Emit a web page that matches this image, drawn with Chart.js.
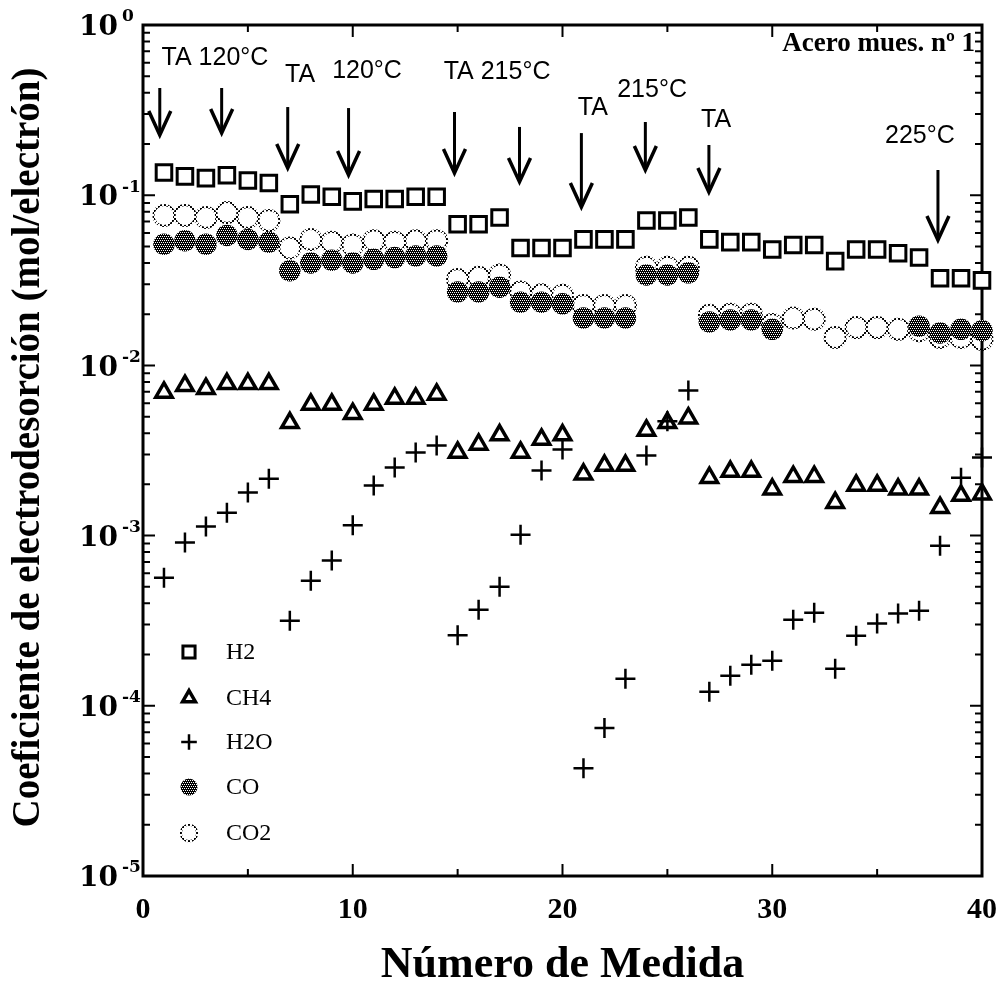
<!DOCTYPE html>
<html>
<head>
<meta charset="utf-8">
<script src="https://cdn.jsdelivr.net/npm/chart.js@4/dist/chart.umd.min.js"></script>
<style>
html,body{margin:0;padding:0;background:#fff;}
#wrap{width:1004px;height:986px;position:relative;}
</style>
</head>
<body>
<div id="wrap"><canvas id="c" width="1004" height="986"></canvas></div>
<script>
// ---------- data ----------
const measureNumber = [1,2,3,4,5,6,7,8,9,10,11,12,13,14,15,16,17,18,19,20,21,22,23,24,25,26,27,28,29,30,31,32,33,34,35,36,37,38,39,40];
const h2 = [0.136,0.129,0.126,0.131,0.122,0.118,0.0885,0.101,0.098,0.092,0.095,0.095,0.098,0.098,0.0675,0.0675,0.074,0.049,0.049,0.049,0.055,0.055,0.055,0.071,0.071,0.074,0.055,0.053,0.053,0.048,0.051,0.051,0.041,0.048,0.048,0.0456,0.043,0.0325,0.0325,0.0316];
const ch4 = [0.00694,0.0076,0.0073,0.0078,0.0078,0.0078,0.0046,0.0059,0.0059,0.0052,0.0059,0.0064,0.0064,0.00675,0.00308,0.00343,0.0039,0.00308,0.00367,0.0039,0.00229,0.00258,0.00258,0.00415,0.0046,0.0049,0.00219,0.00238,0.00238,0.00187,0.00222,0.00222,0.00156,0.00197,0.00197,0.00187,0.00187,0.00146,0.00172,0.00175];
const h2o = [0.000566,0.00091,0.00113,0.00136,0.00179,0.00216,0.000316,0.000543,0.000713,0.00115,0.00197,0.00251,0.00308,0.00338,0.00026,0.000367,0.0005,0.00101,0.00241,0.0032,0.000043,0.000074,0.000144,0.00296,0.0047,0.00713,0.000121,0.00015,0.000174,0.000184,0.00032,0.000352,0.000165,0.000258,0.000304,0.000348,0.000362,0.000873,0.00219,0.00288];
const co = [0.0515,0.054,0.0515,0.058,0.055,0.053,0.036,0.040,0.0415,0.040,0.042,0.043,0.044,0.044,0.027,0.027,0.0288,0.0235,0.0235,0.023,0.019,0.019,0.019,0.034,0.034,0.035,0.018,0.0185,0.0185,0.0163,null,null,null,null,null,null,0.017,0.0155,0.0163,0.016];
const co2 = [0.076,0.076,0.074,0.079,0.074,0.071,0.049,0.055,0.053,0.051,0.054,0.053,0.054,0.054,0.032,0.033,0.034,0.027,0.026,0.0258,0.0225,0.0225,0.0225,0.0377,0.0377,0.0377,0.0197,0.020,0.020,0.0174,0.019,0.0187,0.0146,0.0167,0.0167,0.0163,0.016,0.0146,0.0146,0.0142];

const seriesNames = ['H2','CH4','H2O','CO','CO2'];
const xTickLabels = ['0','10','20','30','40'];
const xTickValues = [0,10,20,30,40];
const xMinorTickValues = [5,15,25,35];
const yTickExponents = [0,-1,-2,-3,-4,-5];

// annotations (data coordinates: x value, log10 of y value)
const arrowX      = [0.8, 3.75, 6.9, 9.8, 14.85, 17.95, 20.9, 23.95, 26.98, 37.9];
const arrowTopExp = [-0.370,-0.370,-0.482,-0.488,-0.511,-0.599,-0.635,-0.570,-0.705,-0.852];
const arrowTipExp = [-0.646,-0.635,-0.840,-0.881,-0.870,-0.922,-1.069,-0.852,-0.981,-1.263];
const noteTexts = ['TA 120°C','TA','120°C','TA 215°C','TA','215°C','TA','225°C'];
const noteX     = [3.43, 7.49, 10.68, 16.88, 21.45, 24.27, 27.32, 37.04];
const noteExp   = [-0.194,-0.294,-0.270,-0.276,-0.488,-0.382,-0.558,-0.652];
const sampleTitle = 'Acero mues. nº 1';
const xTitle = 'Número de Medida';
const yTitle = 'Coeficiente de electrodesorción (mol/electrón)';

// ---------- styles ----------
const canvas = document.getElementById('c');
const mainCtx = canvas.getContext('2d');
function makePattern(size, blackCells, bg) {
  const c = document.createElement('canvas');
  c.width = size; c.height = size;
  const g = c.getContext('2d');
  if (bg) { g.fillStyle = bg; g.fillRect(0,0,size,size); }
  g.fillStyle = '#000';
  blackCells.forEach(([i,j]) => g.fillRect(i,j,1,1));
  return mainCtx.createPattern(c, 'repeat');
}
// halftone: 4x4 cell, white dots at (0,0),(2,0),(1,2),(3,2)
const coCells = [];
for (let i = 0; i < 4; i++) for (let j = 0; j < 4; j++) {
  const white = (j === 0 && (i === 0 || i === 2)) || (j === 2 && (i === 1 || i === 3));
  if (!white) coCells.push([i, j]);
}
const coFill = makePattern(4, coCells, '#fff');
const co2Stroke = makePattern(4, [[0,0],[1,0],[0,1],[1,1],[2,2],[3,2],[2,3],[3,3]], null);

function pts(arr) {
  return measureNumber.map((x,i) => ({x, y: arr[i]})).filter(p => p.y !== null);
}

const datasets = [
  {label:seriesNames[0], data:pts(h2), pointStyle:'rect', pointRadius:11, pointBorderWidth:3,
   pointBorderColor:'#000', pointBackgroundColor:'#fff', order:2, clip:false},
  {label:seriesNames[1], data:pts(ch4), pointStyle:'triangle', pointRadius:9.5, pointBorderWidth:3.5,
   pointBorderColor:'#000', pointBackgroundColor:'rgba(0,0,0,0)', order:1, clip:false},
  {label:seriesNames[2], data:pts(h2o), pointStyle:'cross', pointRadius:10, pointBorderWidth:2.5,
   pointBorderColor:'#000', pointBackgroundColor:'rgba(0,0,0,0)', order:0, clip:false},
  {label:seriesNames[3], data:pts(co), pointStyle:'circle', pointRadius:10, pointBorderWidth:1.5,
   pointBorderColor:coFill, pointBackgroundColor:coFill, order:3, clip:false},
  {label:seriesNames[4], data:pts(co2), pointStyle:'circle', pointRadius:10.5, pointBorderWidth:2,
   pointBorderColor:co2Stroke, pointBackgroundColor:'rgba(255,255,255,0)', order:4, clip:false}
];
datasets.forEach(d => { d.showLine = false; d.pointHoverRadius = d.pointRadius; });

const TICK_FONT_Y = 'bold 28px "DejaVu Serif"';
const EXP_FONT = 'bold 17px "DejaVu Serif"';
const TICK_FONT_X = 'bold 30px "Liberation Serif"';
const XTITLE_FONT = 'bold 44px "Liberation Serif"';
const YTITLE_FONT = 'bold 39px "Liberation Serif"';
const NOTE_FONT = '25px "Liberation Sans"';
const LEGEND_FONT = '24px "Liberation Serif"';
const SAMPLE_FONT = 'bold 27px "Liberation Serif"';

function drawMarker(ctx, ds, x, y, scale) {
  ctx.save();
  ctx.fillStyle = ds.pointBackgroundColor;
  ctx.strokeStyle = ds.pointBorderColor;
  ctx.lineWidth = ds.pointBorderWidth;
  Chart.helpers.drawPoint(ctx, {pointStyle: ds.pointStyle, radius: ds.pointRadius*scale, rotation: 0,
    borderWidth: ds.pointBorderWidth}, x, y);
  ctx.restore();
}

const decor = {
  id: 'decor',
  beforeDatasetsDraw(chart) {
    const {ctx, chartArea: a, scales: {x, y}} = chart;
    ctx.save();
    ctx.strokeStyle = '#000';
    ctx.lineWidth = 2;
    ctx.beginPath();
    xTickValues.concat(xMinorTickValues).forEach(v => {
      const px = x.getPixelForValue(v);
      const len = xTickValues.includes(v) ? 12 : 7;
      ctx.moveTo(px, a.bottom); ctx.lineTo(px, a.bottom - len);
      ctx.moveTo(px, a.top); ctx.lineTo(px, a.top + len);
    });
    yTickExponents.forEach(e => {
      for (let m = 1; m <= 9; m++) {
        const v = m * Math.pow(10, e);
        if (v > 1.0000001) break;
        const py = y.getPixelForValue(v);
        const len = m === 1 ? 12 : 7;
        ctx.moveTo(a.left, py); ctx.lineTo(a.left + len, py);
        ctx.moveTo(a.right, py); ctx.lineTo(a.right - len, py);
      }
    });
    ctx.stroke();
    ctx.lineWidth = 3;
    ctx.strokeRect(a.left, a.top, a.right - a.left, a.bottom - a.top);
    ctx.restore();
  },
  afterDatasetsDraw(chart) {
    const {ctx, chartArea: a, scales: {x, y}} = chart;
    ctx.save();
    ctx.fillStyle = '#000';
    // y tick labels
    yTickExponents.forEach(e => {
      const py = y.getPixelForValue(Math.pow(10, e));
      ctx.font = TICK_FONT_Y; ctx.textAlign = 'right'; ctx.textBaseline = 'middle';
      ctx.fillText('10', 118, py + 3);
      ctx.font = EXP_FONT; ctx.textAlign = 'left';
      ctx.fillText(e === 0 ? '0' : '-' + (-e), 122, py - 8);
    });
    // x tick labels
    ctx.font = TICK_FONT_X; ctx.textAlign = 'center'; ctx.textBaseline = 'middle';
    xTickValues.forEach((v, i) => ctx.fillText(xTickLabels[i], x.getPixelForValue(v), a.bottom + 34));
    // titles
    ctx.font = XTITLE_FONT;
    ctx.fillText(xTitle, (a.left + a.right) / 2, a.bottom + 90);
    ctx.save();
    ctx.font = YTITLE_FONT;
    ctx.translate(29, (a.top + a.bottom) / 2 - 3);
    ctx.rotate(-Math.PI / 2);
    ctx.fillText(yTitle, 0, 0);
    ctx.restore();
    // arrows
    ctx.strokeStyle = '#000';
    ctx.lineCap = 'butt';
    arrowX.forEach((v, i) => {
      const px = x.getPixelForValue(v);
      const top = y.getPixelForValue(Math.pow(10, arrowTopExp[i]));
      const tip = y.getPixelForValue(Math.pow(10, arrowTipExp[i]));
      ctx.lineWidth = 3;
      ctx.beginPath(); ctx.moveTo(px, top); ctx.lineTo(px, tip - 2); ctx.stroke();
      ctx.lineWidth = 3.5;
      ctx.beginPath();
      ctx.moveTo(px - 11, tip - 24); ctx.lineTo(px, tip); ctx.lineTo(px + 11, tip - 24);
      ctx.stroke();
    });
    // notes
    ctx.font = NOTE_FONT; ctx.textAlign = 'center'; ctx.textBaseline = 'middle';
    noteTexts.forEach((t, i) => ctx.fillText(t, x.getPixelForValue(noteX[i]), y.getPixelForValue(Math.pow(10, noteExp[i]))));
    ctx.font = SAMPLE_FONT; ctx.textAlign = 'right';
    ctx.fillText(sampleTitle, x.getPixelForValue(39.67), y.getPixelForValue(Math.pow(10, -0.11)));
    // legend
    const rows = [652, 698, 742, 787, 833];
    chart.data.datasets.forEach((ds, i) => {
      drawMarker(ctx, ds, 189, rows[i], 0.78);
      ctx.fillStyle = '#000';
      ctx.font = LEGEND_FONT; ctx.textAlign = 'left'; ctx.textBaseline = 'middle';
      ctx.fillText(ds.label, 226, rows[i] + 1);
    });
    ctx.restore();
  }
};

new Chart(canvas, {
  type: 'scatter',
  data: {datasets},
  options: {
    responsive: false,
    animation: false,
    devicePixelRatio: 1,
    events: [],
    layout: {padding: {left: 143, right: 22, top: 25, bottom: 110}},
    plugins: {legend: {display: false}, tooltip: {enabled: false}},
    scales: {
      x: {type: 'linear', min: 0, max: 40, display: false},
      y: {type: 'logarithmic', min: 1e-5, max: 1, display: false}
    }
  },
  plugins: [decor]
});
</script>
</body>
</html>
